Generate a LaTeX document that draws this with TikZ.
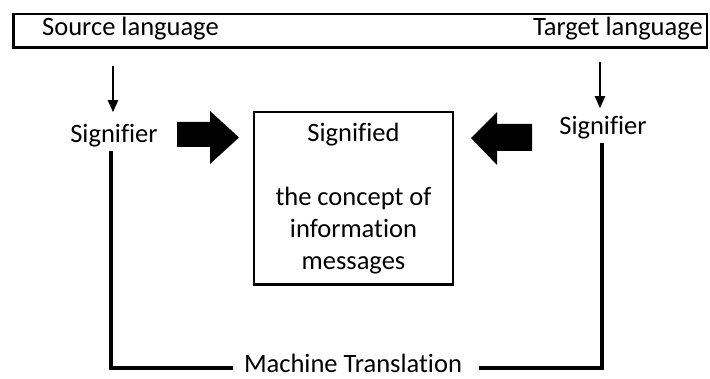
\documentclass[tikz,border=0pt]{standalone}
\usepackage{fontspec}
\setmainfont{Carlito}[Ligatures=NoCommon]
\usetikzlibrary{arrows.meta,positioning}

\begin{document}
\begin{tikzpicture}[x=1pt, y=-1pt,
    every node/.style={font=\fontsize{26.5}{32}\selectfont},
    thinarrow/.style={line width=2pt, -{Triangle[length=12pt,width=10pt]}},
    frame/.style={line width=4pt}]
    \useasboundingbox (0,0) rectangle (710,379);
    \node[draw, line width=2.5pt, minimum width=693.5pt, minimum height=33.5pt, inner sep=0pt] (bar) at (360,31) {};
    \node[anchor=base west, inner sep=0pt] (src) at (42,36) {Source language};
    \node[anchor=base east, inner sep=0pt] (tgt) at (703,36) {Target language};
    \node[anchor=base] (srcsig) at (114,143) {Signifier};
    \node[anchor=base] (tgtsig) at (603,135) {Signifier};
    \node[draw, line width=2.5pt, minimum width=199pt, minimum height=172.5pt, align=center] (signified) at (353.5,198.5)
        {Signified\\[32pt]the concept of\\information\\messages};
    \node[anchor=base, inner sep=0pt] (mt) at (353,373) {Machine Translation};
    \draw[thinarrow, shorten <=17pt, shorten >=9pt] ([xshift=-1pt]bar.south -| srcsig) -- ([xshift=-1pt]srcsig.north);
    \draw[thinarrow, shorten <=13pt, shorten >=5pt] ([xshift=-3pt]bar.south -| tgtsig) -- ([xshift=-3pt]tgtsig.north);
    \fill (177,122) -- (210,122) -- (210,111) -- (239,137.5) -- (210,164) -- (210,147) -- (177,147) -- cycle;
    \fill (532,124) -- (497,124) -- (497,112) -- (471,138) -- (497,165) -- (497,151) -- (532,151) -- cycle;
    \draw[frame, shorten >=11pt] ([xshift=-3pt]srcsig.south) |- ([yshift=-4pt]mt.west);
    \draw[frame, shorten >=17pt] ([xshift=-1pt]tgtsig.south) |- ([yshift=-4pt]mt.east);
\end{tikzpicture}
\end{document}
